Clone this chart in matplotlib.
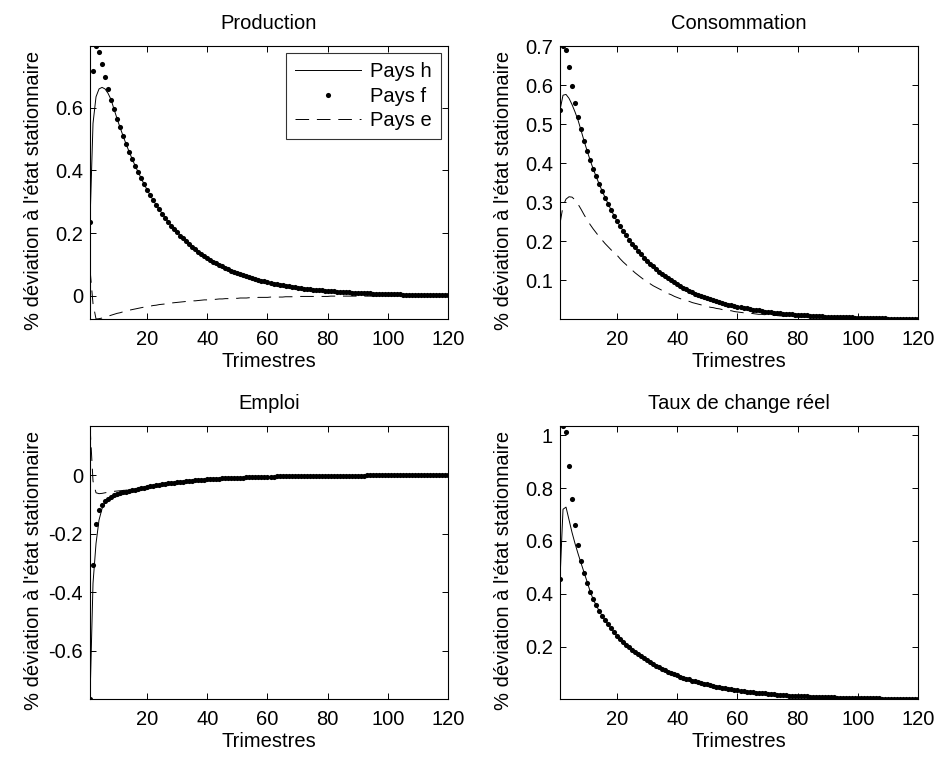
import numpy as np
import matplotlib
matplotlib.use("Agg")
import matplotlib.pyplot as plt

plt.rcParams['font.family'] = ['Liberation Sans', 'DejaVu Sans']
plt.rcParams['axes.unicode_minus'] = False

trimestres = np.arange(1, 121)

titles = ["Production", "Consommation", "Emploi", "Taux de change réel"]
legend_labels = ["Pays h", "Pays f", "Pays e"]
ylabel = "% déviation à l'état stationnaire"
xlabel = "Trimestres"
xticks = [20, 40, 60, 80, 100, 120]
yticks = [[0, 0.2, 0.4, 0.6],
          [0.1, 0.2, 0.3, 0.4, 0.5, 0.6, 0.7],
          [-0.6, -0.4, -0.2, 0],
          [0.2, 0.4, 0.6, 0.8, 1]]

# Production
prod_f = [0.236, 0.718, 0.797, 0.779, 0.741, 0.699, 0.661, 0.626, 0.595, 0.565,
          0.537, 0.510, 0.484, 0.460, 0.437, 0.415, 0.395, 0.375, 0.356, 0.338,
          0.321, 0.305, 0.290, 0.276, 0.262, 0.249, 0.236, 0.224, 0.213, 0.203,
          0.192, 0.183, 0.174, 0.165, 0.157, 0.149, 0.141, 0.134, 0.128, 0.121,
          0.115, 0.109, 0.104, 0.099, 0.094, 0.089, 0.085, 0.080, 0.076, 0.073,
          0.069, 0.066, 0.062, 0.059, 0.056, 0.053, 0.051, 0.048, 0.046, 0.043,
          0.041, 0.039, 0.037, 0.035, 0.034, 0.032, 0.030, 0.029, 0.027, 0.026,
          0.025, 0.023, 0.022, 0.021, 0.020, 0.019, 0.018, 0.017, 0.016, 0.016,
          0.015, 0.014, 0.013, 0.013, 0.012, 0.011, 0.011, 0.010, 0.010, 0.009,
          0.009, 0.008, 0.008, 0.008, 0.007, 0.007, 0.007, 0.006, 0.006, 0.006,
          0.005, 0.005, 0.005, 0.005, 0.004, 0.004, 0.004, 0.004, 0.004, 0.003,
          0.003, 0.003, 0.003, 0.003, 0.003, 0.002, 0.002, 0.002, 0.002, 0.002]
prod_h = [0.236, 0.550, 0.635, 0.660, 0.665, 0.660, 0.646, 0.626, 0.595, 0.565] + prod_f[10:]
prod_e = [0.085, -0.025, -0.074, -0.073, -0.071, -0.068, -0.065, -0.062, -0.059, -0.056,
          -0.054, -0.051, -0.049, -0.046, -0.044, -0.042, -0.040, -0.038, -0.036, -0.035,
          -0.033, -0.031, -0.030, -0.028, -0.027, -0.026, -0.024, -0.023, -0.022, -0.021,
          -0.020, -0.019, -0.018, -0.017, -0.016, -0.016, -0.015, -0.014, -0.013, -0.013,
          -0.012, -0.012, -0.011, -0.010, -0.010, -0.009, -0.009, -0.009, -0.008, -0.008,
          -0.007, -0.007, -0.007, -0.006, -0.006, -0.006, -0.005, -0.005, -0.005, -0.005,
          -0.004, -0.004, -0.004, -0.004, -0.004, -0.003, -0.003, -0.003, -0.003, -0.003,
          -0.002, -0.002, -0.002, -0.002, -0.002, -0.002, -0.002, -0.002, -0.002, -0.002,
          -0.001, -0.001, -0.001, -0.001, -0.001, -0.001, -0.001, -0.001, -0.001, -0.001,
          -0.001, -0.001, -0.001, -0.001, -0.001, 0.0, 0.0, 0.0, 0.0, 0.0,
          0.0, 0.0, 0.0, 0.0, 0.0, 0.0, 0.0, 0.0, 0.0, 0.0,
          0.0, 0.0, 0.0, 0.0, 0.0, 0.0, 0.0, 0.0, 0.0, 0.0]

# Consommation
cons_f = [0.536, 0.700, 0.690, 0.645, 0.597, 0.555, 0.519, 0.487, 0.457, 0.432,
          0.408, 0.386, 0.366, 0.347, 0.329, 0.312, 0.296, 0.280, 0.265, 0.251,
          0.238, 0.227, 0.215, 0.204, 0.194, 0.185, 0.175, 0.167, 0.158, 0.150,
          0.143, 0.136, 0.129, 0.122, 0.116, 0.110, 0.105, 0.100, 0.095, 0.090,
          0.085, 0.081, 0.077, 0.073, 0.070, 0.066, 0.063, 0.060, 0.057, 0.054,
          0.051, 0.049, 0.046, 0.044, 0.042, 0.040, 0.038, 0.036, 0.034, 0.032,
          0.031, 0.029, 0.028, 0.026, 0.025, 0.024, 0.023, 0.021, 0.020, 0.019,
          0.018, 0.017, 0.017, 0.016, 0.015, 0.014, 0.013, 0.013, 0.012, 0.012,
          0.011, 0.010, 0.010, 0.009, 0.009, 0.009, 0.008, 0.008, 0.007, 0.007,
          0.007, 0.006, 0.006, 0.006, 0.005, 0.005, 0.005, 0.005, 0.004, 0.004,
          0.004, 0.004, 0.004, 0.003, 0.003, 0.003, 0.003, 0.003, 0.003, 0.002,
          0.002, 0.002, 0.002, 0.002, 0.002, 0.002, 0.002, 0.002, 0.002, 0.001]
cons_h = [0.536, 0.574, 0.576, 0.566, 0.550, 0.531, 0.510, 0.484, 0.457, 0.432] + cons_f[10:]
cons_e = [0.245, 0.290, 0.308, 0.314, 0.313, 0.306, 0.295, 0.282, 0.268, 0.255,
          0.243, 0.232, 0.222, 0.212, 0.203, 0.194, 0.186, 0.178, 0.171, 0.164,
          0.155, 0.147, 0.140, 0.132, 0.126, 0.119, 0.113, 0.107, 0.101, 0.096,
          0.091, 0.086, 0.082, 0.078, 0.074, 0.070, 0.066, 0.063, 0.059, 0.056,
          0.053, 0.051, 0.048, 0.046, 0.043, 0.041, 0.039, 0.037, 0.035, 0.033,
          0.031, 0.030, 0.028, 0.027, 0.025, 0.024, 0.023, 0.022, 0.020, 0.019,
          0.018, 0.017, 0.017, 0.016, 0.015, 0.014, 0.013, 0.013, 0.012, 0.011,
          0.011, 0.010, 0.010, 0.009, 0.009, 0.008, 0.008, 0.007, 0.007, 0.007,
          0.006, 0.006, 0.006, 0.005, 0.005, 0.005, 0.005, 0.004, 0.004, 0.004,
          0.004, 0.003, 0.003, 0.003, 0.003, 0.003, 0.003, 0.002, 0.002, 0.002,
          0.002, 0.002, 0.002, 0.002, 0.002, 0.002, 0.001, 0.001, 0.001, 0.001,
          0.001, 0.001, 0.001, 0.001, 0.001, 0.001, 0.001, 0.001, 0.001, 0.001]

# Emploi
empl_f = [-0.764, -0.307, -0.168, -0.119, -0.100, -0.088, -0.080, -0.074, -0.069, -0.065,
          -0.062, -0.059, -0.056, -0.054, -0.051, -0.049, -0.046, -0.044, -0.042, -0.040,
          -0.038, -0.036, -0.034, -0.033, -0.031, -0.029, -0.028, -0.027, -0.025, -0.024,
          -0.023, -0.022, -0.021, -0.020, -0.019, -0.018, -0.017, -0.016, -0.015, -0.014,
          -0.014, -0.013, -0.012, -0.012, -0.011, -0.011, -0.010, -0.010, -0.009, -0.009,
          -0.008, -0.008, -0.007, -0.007, -0.007, -0.006, -0.006, -0.006, -0.005, -0.005,
          -0.005, -0.005, -0.004, -0.004, -0.004, -0.004, -0.004, -0.003, -0.003, -0.003,
          -0.003, -0.003, -0.003, -0.003, -0.002, -0.002, -0.002, -0.002, -0.002, -0.002,
          -0.002, -0.002, -0.002, -0.0015, -0.0014, -0.0013, -0.0012, -0.0012, -0.0011, -0.0011,
          -0.0010, -0.0010, -0.0009, -0.0009, -0.0008, -0.0008, -0.0008, -0.0007, -0.0007, -0.0007,
          -0.0006, -0.0006, -0.0006, -0.0005, -0.0005, -0.0005, -0.0005, -0.0004, -0.0004, -0.0004,
          -0.0004, -0.0003, -0.0003, -0.0003, -0.0003, -0.0003, -0.0002, -0.0002, -0.0002, -0.0002]
empl_h = [-0.764, -0.369, -0.233, -0.153, -0.114, -0.094, -0.082, -0.075, -0.069, -0.065] + empl_f[10:]
empl_e = [0.168, -0.020, -0.060, -0.063, -0.062, -0.060, -0.058, -0.056, -0.055, -0.054,
          -0.053, -0.052, -0.051, -0.050, -0.049, -0.047, -0.045, -0.043, -0.041, -0.040] + empl_f[20:]

# Taux de change reel
taux_f = [0.455, 1.035, 1.014, 0.883, 0.758, 0.660, 0.584, 0.525, 0.477, 0.441,
          0.408, 0.380, 0.357, 0.336, 0.317, 0.300, 0.284, 0.269, 0.254, 0.240,
          0.229, 0.218, 0.208, 0.198, 0.189, 0.180, 0.171, 0.163, 0.156, 0.148,
          0.141, 0.135, 0.128, 0.122, 0.117, 0.111, 0.106, 0.101, 0.096, 0.092,
          0.087, 0.083, 0.079, 0.076, 0.072, 0.069, 0.065, 0.062, 0.059, 0.057,
          0.054, 0.051, 0.049, 0.047, 0.045, 0.042, 0.040, 0.039, 0.037, 0.035,
          0.033, 0.032, 0.030, 0.029, 0.028, 0.026, 0.025, 0.024, 0.023, 0.022,
          0.021, 0.020, 0.019, 0.018, 0.017, 0.016, 0.015, 0.015, 0.014, 0.013,
          0.013, 0.012, 0.012, 0.011, 0.011, 0.010, 0.010, 0.009, 0.009, 0.008,
          0.008, 0.008, 0.007, 0.007, 0.007, 0.006, 0.006, 0.006, 0.005, 0.005,
          0.005, 0.005, 0.004, 0.004, 0.004, 0.004, 0.004, 0.003, 0.003, 0.003,
          0.003, 0.003, 0.003, 0.003, 0.002, 0.002, 0.002, 0.002, 0.002, 0.002]
taux_h = [0.455, 0.720, 0.728, 0.680, 0.632, 0.590, 0.552, 0.516, 0.481, 0.446, 0.410] + taux_f[11:]

panels = [(prod_h, prod_f, prod_e),
          (cons_h, cons_f, cons_e),
          (empl_h, empl_f, empl_e),
          (taux_h, taux_f, None)]

FS = 14.5

fig = plt.figure(figsize=(9.41, 7.58), dpi=100)
lefts = [90 / 941.0, 560 / 941.0, 90 / 941.0, 560 / 941.0]
bottoms = [1 - 319 / 758.0, 1 - 319 / 758.0, 1 - 699 / 758.0, 1 - 699 / 758.0]
w = 358 / 941.0
h = 273 / 758.0

for i in range(4):
    ax = fig.add_axes([lefts[i], bottoms[i], w, h])
    sh, sf, se = panels[i]

    ax.plot(trimestres, sh, '-', color='k', lw=0.7, label=legend_labels[0])
    ax.plot(trimestres, sf, 'o', color='k', ms=3.7, mew=0, label=legend_labels[1])
    if se is not None:
        ax.plot(trimestres, se, '--', color='k', lw=0.7, dashes=(14, 8), label=legend_labels[2])

    # axis tight like matlab
    allv = list(sh) + list(sf) + (list(se) if se is not None else [])
    ax.set_xlim(1, 120)
    ax.set_ylim(min(allv), max(allv))

    ax.set_xticks(xticks)
    ax.set_yticks(yticks[i])
    ax.set_yticklabels(["%g" % v for v in yticks[i]])
    ax.tick_params(direction='in', length=4, width=0.7, top=True, right=True,
                   labelsize=FS, colors='k')
    ax.tick_params(axis='x', pad=8)
    ax.tick_params(axis='y', pad=5)
    for sp in ax.spines.values():
        sp.set_linewidth(0.8)

    ax.set_title(titles[i], fontsize=FS, pad=12)
    ax.set_xlabel(xlabel, fontsize=FS, labelpad=2)
    ax.set_ylabel(ylabel, fontsize=FS)
    ax.yaxis.set_label_coords(-0.13, 0.47)

    if i == 0:
        leg = ax.legend(loc='upper right', fontsize=FS, frameon=True, fancybox=False,
                        edgecolor='k', handlelength=3.3, borderaxespad=0.35,
                        labelspacing=0.28, handletextpad=0.45, borderpad=0.45)
        leg.get_frame().set_linewidth(0.8)

fig.savefig("out.png", dpi=100)
